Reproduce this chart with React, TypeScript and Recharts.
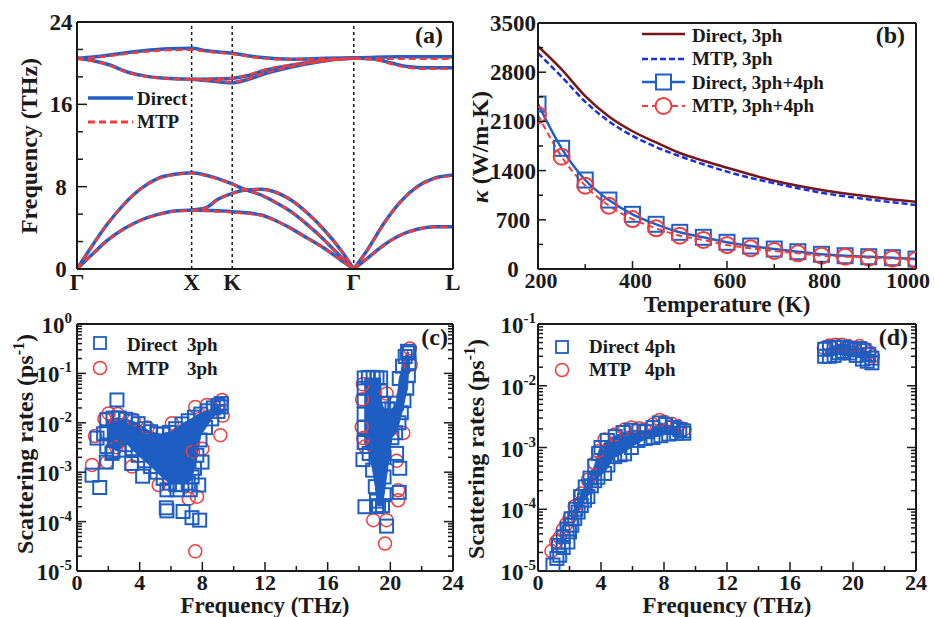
import React from 'react';
import { LineChart, Line, ComposedChart, Area, Scatter, XAxis, YAxis, ReferenceLine } from 'recharts';

type Pair = [number, number];
type Band = [number, number, number];

const FONT = '"Liberation Serif", "Times New Roman", serif';
const INK = '#1a1a1a';
const BLUE = '#1f5fc6';
const SQ = '#1e5ec2';
const RED = '#f23c3c';
const MAROON = '#74161a';
const DBLUE = '#1b30e0';
const FRAME = { stroke: INK, strokeWidth: 2 };

// ---------- (a) phonon dispersion, k in units of 2pi/a along G-X-K-G-L
const symK = [0, 1, 1.354, 2.414, 3.28];
const symLabels = ['Γ', 'X', 'K', 'Γ', 'L'];
const freqTicksA = [0, 8 / 3, 16 / 3, 8, 32 / 3, 40 / 3, 16, 56 / 3, 64 / 3, 24];

// Direct (DFT) bands, G-X-K-G segment
const dLA1: Pair[] = [[0, 0], [0.127, 2.17], [0.27, 4.44], [0.417, 6.38], [0.56, 7.84], [0.707, 8.81], [0.85, 9.2], [1, 9.36], [1.171, 8.97], [1.354, 8.26], [1.475, 7.68], [1.606, 7.19], [1.722, 6.54], [1.867, 5.57], [2.012, 4.28], [2.157, 2.82], [2.301, 1.2], [2.414, 0]];
const dTA2: Pair[] = [[0, 0], [0.127, 1.36], [0.27, 2.82], [0.417, 3.95], [0.56, 4.76], [0.707, 5.31], [0.85, 5.64], [1, 5.73], [1.113, 5.9], [1.229, 6.77], [1.354, 7.35], [1.475, 7.68], [1.606, 7.74], [1.722, 7.51], [1.867, 6.7], [2.012, 5.41], [2.157, 3.79], [2.301, 1.85], [2.414, 0]];
const dTA1: Pair[] = [[1, 5.73], [1.171, 5.68], [1.354, 5.57], [1.606, 5.25], [1.722, 4.76], [1.867, 3.95], [2.012, 2.98], [2.157, 2.01], [2.301, 0.87], [2.414, 0]];
const dLO1: Pair[] = [[0, 20.47], [0.142, 20.6], [0.287, 20.8], [0.577, 21.2], [0.81, 21.4], [1, 21.45], [1.128, 21.2], [1.354, 20.96], [1.591, 20.57], [1.88, 20.38], [2.17, 20.47], [2.414, 20.5]];
const dTO1: Pair[] = [[0, 20.47], [0.142, 20.24], [0.287, 19.82], [0.432, 19.17], [0.577, 18.79], [0.81, 18.5], [1, 18.43], [1.17, 18.46], [1.354, 18.53], [1.475, 18.75], [1.649, 19.34], [1.88, 19.82], [2.113, 20.24], [2.414, 20.47]];
const dTO2: Pair[] = [[1, 18.43], [1.17, 18.27], [1.354, 18.1], [1.475, 18.37], [1.649, 19.01], [1.88, 19.66], [2.113, 20.14], [2.287, 20.41], [2.414, 20.47]];
// G-L segment
const dLA2: Pair[] = [[2.414, 0], [2.533, 1.85], [2.678, 4.44], [2.823, 6.54], [2.968, 8.0], [3.113, 8.81], [3.28, 9.13]];
const dTAL: Pair[] = [[2.414, 0], [2.533, 1.04], [2.678, 2.33], [2.823, 3.3], [2.968, 3.86], [3.113, 4.11], [3.28, 4.11]];
const dOuL: Pair[] = [[2.414, 20.5], [2.6, 20.58], [2.8, 20.62], [3.28, 20.63]];
const dOlL: Pair[] = [[2.414, 20.5], [2.606, 20.38], [2.75, 19.99], [2.896, 19.66], [3.04, 19.56], [3.28, 19.56]];

// MTP bands
const mLA1: Pair[] = [[0, 0], [0.127, 2.15], [0.27, 4.42], [0.417, 6.36], [0.56, 7.8], [0.707, 8.76], [0.85, 9.15], [1, 9.3], [1.171, 8.93], [1.354, 8.24], [1.475, 7.68], [1.606, 7.2], [1.722, 6.55], [1.867, 5.58], [2.012, 4.28], [2.157, 2.82], [2.301, 1.2], [2.414, 0]];
const mTA2: Pair[] = [[0, 0], [0.127, 1.35], [0.27, 2.8], [0.417, 3.92], [0.56, 4.72], [0.707, 5.27], [0.85, 5.6], [1, 5.7], [1.113, 5.88], [1.229, 6.74], [1.354, 7.33], [1.475, 7.68], [1.606, 7.74], [1.722, 7.5], [1.867, 6.7], [2.012, 5.41], [2.157, 3.79], [2.301, 1.85], [2.414, 0]];
const mTA1: Pair[] = [[1, 5.7], [1.171, 5.62], [1.354, 5.5], [1.606, 5.2], [1.722, 4.73], [1.867, 3.93], [2.012, 2.97], [2.157, 2.0], [2.301, 0.87], [2.414, 0]];
const mLO1: Pair[] = [[0, 20.42], [0.142, 20.52], [0.287, 20.72], [0.577, 21.1], [0.81, 21.28], [1, 21.3], [1.128, 21.12], [1.354, 20.9], [1.591, 20.52], [1.88, 20.35], [2.17, 20.42], [2.414, 20.45]];
const mTO1: Pair[] = [[0, 20.42], [0.142, 20.2], [0.287, 19.78], [0.432, 19.14], [0.577, 18.76], [0.81, 18.48], [1, 18.42], [1.17, 18.46], [1.354, 18.56], [1.475, 18.8], [1.649, 19.4], [1.88, 19.86], [2.113, 20.22], [2.414, 20.45]];
const mTO2: Pair[] = [[1, 18.42], [1.17, 18.3], [1.354, 18.18], [1.475, 18.43], [1.649, 19.06], [1.88, 19.7], [2.113, 20.14], [2.287, 20.38], [2.414, 20.45]];
const mLA2: Pair[] = [[2.414, 0], [2.533, 1.83], [2.678, 4.4], [2.823, 6.5], [2.968, 7.95], [3.113, 8.74], [3.28, 9.05]];
const mTAL: Pair[] = [[2.414, 0], [2.533, 1.03], [2.678, 2.31], [2.823, 3.27], [2.968, 3.83], [3.113, 4.07], [3.28, 4.08]];
const mOuL: Pair[] = [[2.414, 20.45], [2.6, 20.45], [2.8, 20.43], [3.28, 20.42]];
const mOlL: Pair[] = [[2.414, 20.45], [2.606, 20.3], [2.75, 19.9], [2.896, 19.55], [3.04, 19.45], [3.28, 19.45]];

const directBands = [dLA1, dTA2, dTA1, dLO1, dTO1, dTO2, dLA2, dTAL, dOuL, dOlL];
const mtpBands = [mLA1, mTA2, mTA1, mLO1, mTO1, mTO2, mLA2, mTAL, mOuL, mOlL];

// ---------- (b) thermal conductivity
const tempK = [200, 250, 300, 350, 400, 450, 500, 550, 600, 650, 700, 750, 800, 850, 900, 950, 1000];
const kDirect3 = [3170, 2840, 2460, 2170, 1960, 1800, 1650, 1540, 1440, 1345, 1255, 1185, 1125, 1075, 1030, 990, 955];
const kMtp3 = [3070, 2735, 2380, 2100, 1895, 1735, 1605, 1490, 1385, 1295, 1220, 1150, 1085, 1035, 990, 950, 910];
const kDirect34 = [2347, 1717, 1266, 981, 778, 636, 522, 451, 380, 327, 284, 246, 209, 189, 175, 161, 142];
const kMtp34 = [2190, 1598, 1185, 900, 711, 579, 474, 413, 341, 294, 256, 223, 189, 175, 161, 147, 128];
const tempTicks = [200, 300, 400, 500, 600, 700, 800, 900, 1000];
const kappaTicks = [0, 350, 700, 1050, 1400, 1750, 2100, 2450, 2800, 3150, 3500];

// ---------- (c) 3ph scattering rates (ps^-1)
const cBandLow: Band[] = [
  [1.9, 3.4e-3, 1.15e-2], [2.55, 2.7e-3, 1.26e-2], [3.19, 3.7e-3, 1.17e-2], [3.83, 2.3e-3, 1.0e-2],
  [4.68, 1.35e-3, 6.6e-3], [5.32, 8.5e-4, 5.9e-3], [5.96, 5.8e-4, 6.6e-3], [6.81, 5.8e-4, 1.0e-2],
  [7.28, 6.8e-4, 1.2e-2], [7.6, 1.6e-3, 1.4e-2], [7.9, 5.6e-3, 1.6e-2], [8.6, 1.2e-2, 1.9e-2], [9.15, 2.0e-2, 2.4e-2],
];
const cBandHigh: Band[] = [
  [18.33, 4.0e-3, 8.1e-2], [18.65, 2.4e-3, 8.1e-2], [18.87, 1.1e-3, 8.1e-2], [19.04, 5.1e-4, 8.1e-2],
  [19.18, 2.1e-4, 8.1e-2], [19.38, 2.1e-4, 8.1e-2], [19.45, 2.1e-4, 2.5e-2], [19.6, 3.5e-4, 1.9e-2],
  [20.1, 5.0e-3, 1.9e-2], [20.4, 6.3e-3, 2.5e-2], [20.57, 1.0e-2, 7.9e-2], [20.78, 1.8e-2, 1.4e-1],
  [20.95, 3.2e-2, 2.2e-1], [21.1, 5.0e-2, 2.8e-1], [21.19, 1.6e-1, 2.6e-1],
];
const cDirect: Pair[] = [
  [1.9, 1.15e-2], [2.3, 1.25e-2], [2.7, 1.25e-2], [3.1, 1.18e-2], [3.5, 1.08e-2], [3.9, 9.6e-3], [4.3, 7.6e-3], [4.7, 6.6e-3], [5.1, 6.0e-3], [5.5, 5.9e-3],
  [5.9, 6.4e-3], [6.3, 7.6e-3], [6.7, 9.5e-3], [7.1, 1.1e-2], [7.5, 1.3e-2], [7.9, 1.5e-2], [8.3, 1.75e-2], [8.7, 2.0e-2], [9.0, 2.25e-2], [9.2, 2.45e-2],
  [1.9, 3.3e-3], [2.3, 2.6e-3], [2.7, 2.8e-3], [3.1, 3.6e-3], [3.5, 3.0e-3], [3.9, 2.2e-3], [4.3, 1.7e-3], [4.7, 1.3e-3], [5.1, 1.0e-3], [5.5, 7.5e-4],
  [5.9, 6.0e-4], [6.3, 5.6e-4], [6.7, 5.6e-4], [7.1, 6.0e-4], [7.35, 8.0e-4], [7.5, 1.2e-3], [7.65, 2.2e-3], [7.85, 4.5e-3], [8.2, 8.0e-3], [8.6, 1.2e-2],
  [9.0, 1.7e-2], [9.2, 2.1e-2], [1.9, 6.5e-3],
  [0.96, 8.7e-4], [1.45, 4.9e-4], [1.28, 4.9e-3], [1.87, 1.6e-3], [2.23, 2.4e-3], [2.55, 2.9e-2], [3.49, 1.5e-3], [4.19, 8.3e-4], [5.74, 4.4e-4],
  [6.38, 4.4e-4], [7.23, 4.4e-4], [7.77, 5.5e-4], [5.7, 1.9e-4], [5.74, 1.65e-4], [6.77, 1.6e-4], [7.34, 1.2e-4], [7.83, 1.07e-4], [7.98, 1.6e-3], [1.7, 6.0e-3],
  [18.33, 8.1e-2], [18.33, 5.0e-2], [18.33, 2.8e-2], [18.33, 1.5e-2], [18.33, 8.0e-3], [18.33, 4.0e-3], [18.65, 2.4e-3], [18.87, 1.1e-3], [19.04, 5.1e-4], [19.12, 2.6e-4],
  [18.6, 8.3e-2], [18.9, 8.3e-2], [19.15, 8.1e-2], [19.38, 8.1e-2], [19.38, 4.5e-2], [19.45, 2.5e-2], [19.25, 2.1e-4], [19.5, 2.1e-4],
  [19.6, 3.5e-4], [19.6, 8.0e-4], [19.6, 2.0e-3], [19.6, 5.0e-3], [19.6, 1.2e-2], [19.85, 1.9e-2], [20.1, 1.9e-2],
  [20.4, 2.5e-2], [20.57, 7.9e-2], [20.78, 1.4e-1], [20.95, 2.2e-1], [21.1, 2.8e-1],
  [21.19, 2.6e-1], [21.19, 1.6e-1], [21.15, 9.0e-2], [21.05, 5.0e-2], [20.87, 2.8e-2], [20.7, 1.6e-2], [20.55, 1.0e-2], [20.34, 6.3e-3], [20.1, 5.0e-3],
  [18.38, 2.0e-4], [19.12, 2.0e-4], [19.76, 8.1e-5], [20.4, 2.4e-3], [20.6, 1.2e-3], [20.57, 3.9e-4], [18.25, 1.8e-3],
];
const cMtp: Pair[] = [
  [0.96, 1.4e-3], [1.15, 5.4e-3], [1.91, 1.6e-3], [2.02, 1.55e-2], [3.62, 1.15e-2], [3.51, 1.3e-3], [5.21, 5.5e-4], [6.06, 9.8e-3], [7.13, 2.9e-4],
  [7.66, 3.2e-4], [7.55, 2.5e-5], [7.55, 2.1e-2], [8.3, 2.3e-2], [9.15, 5.6e-3], [9.26, 2.9e-2], [9.3, 1.4e-2], [2.6, 1.5e-2], [4.5, 8.0e-3],
  [1.75, 1.2e-2], [2.5, 3.2e-3], [7.4, 2.6e-3], [8.0, 3.0e-3],
  [18.27, 4.9e-3], [18.38, 3.3e-3], [18.17, 8.3e-3], [18.2, 3.0e-2], [19.76, 3.9e-2], [20.83, 6.2e-3], [20.4, 1.7e-3], [20.5, 4.3e-4],
  [20.5, 2.7e-4], [18.91, 1.07e-4], [19.76, 1.07e-4], [19.66, 3.6e-5], [21.25, 3.2e-1], [21.3, 1.5e-1], [18.25, 6.0e-2],
];

// ---------- (d) 4ph scattering rates (ps^-1)
const dBandLow: Band[] = [
  [2.2, 5.6e-5, 9.0e-5], [2.7, 1.1e-4, 1.7e-4], [3.2, 1.7e-4, 3.0e-4], [3.6, 2.9e-4, 5.2e-4], [3.9, 3.4e-4, 9.5e-4],
  [4.3, 4.2e-4, 1.25e-3], [4.8, 6.8e-4, 1.5e-3], [5.3, 7.8e-4, 1.7e-3], [6.0, 1.05e-3, 1.9e-3], [7.0, 1.45e-3, 1.85e-3],
  [7.5, 1.5e-3, 2.3e-3], [7.8, 1.55e-3, 2.5e-3], [8.2, 1.65e-3, 2.35e-3], [8.8, 1.7e-3, 2.05e-3], [9.25, 1.7e-3, 1.85e-3],
];
const dBandHigh: Band[] = [
  [18.2, 3.0e-2, 3.9e-2], [18.8, 3.1e-2, 4.2e-2], [19.4, 3.6e-2, 4.2e-2], [20.1, 3.2e-2, 3.8e-2],
  [20.4, 2.9e-2, 4.0e-2], [20.9, 2.5e-2, 3.5e-2], [21.2, 2.35e-2, 2.8e-2],
];
const dDirect: Pair[] = [
  [0.95, 1.25e-5], [1.2, 1.6e-5], [1.38, 1.8e-5], [1.6, 2.4e-5], [1.9, 2.95e-5], [2.0, 4.3e-5], [2.15, 5.5e-5], [2.33, 7.1e-5], [2.55, 9.0e-5], [2.75, 1.15e-4],
  [2.95, 1.4e-4], [3.17, 1.6e-4], [3.39, 2.4e-4], [3.6, 2.9e-4], [3.81, 3.3e-4], [4.23, 3.8e-4], [4.44, 5.2e-4], [4.87, 7.1e-4], [5.2, 7.6e-4], [5.5, 7.9e-4],
  [5.93, 1.0e-3], [6.35, 1.3e-3], [6.8, 1.4e-3], [7.3, 1.45e-3], [7.8, 1.55e-3], [8.3, 1.65e-3], [8.8, 1.7e-3], [9.25, 1.7e-3],
  [1.3, 2.6e-5], [1.6, 3.6e-5], [1.85, 4.8e-5], [2.1, 7.0e-5], [2.4, 1.0e-4], [2.7, 1.6e-4], [3.0, 2.3e-4], [3.3, 3.2e-4], [3.6, 5.0e-4], [3.85, 8.0e-4],
  [4.0, 1.0e-3], [4.4, 1.3e-3], [4.9, 1.5e-3], [5.4, 1.75e-3], [5.9, 1.9e-3], [6.4, 1.85e-3], [6.9, 1.8e-3], [7.3, 2.1e-3], [7.7, 2.5e-3], [8.1, 2.35e-3],
  [8.6, 2.1e-3], [9.0, 1.95e-3], [9.25, 1.85e-3],
  [18.2, 3.9e-2], [18.5, 4.1e-2], [18.8, 4.2e-2], [19.1, 4.2e-2], [19.4, 4.2e-2], [19.8, 4.0e-2], [20.1, 3.8e-2], [20.4, 4.0e-2], [20.7, 3.7e-2], [21.0, 3.2e-2], [21.2, 2.8e-2],
  [18.2, 3.0e-2], [18.5, 3.0e-2], [18.8, 3.1e-2], [19.1, 3.4e-2], [19.4, 3.6e-2], [19.8, 3.4e-2], [20.2, 3.1e-2], [20.6, 2.7e-2], [20.9, 2.5e-2], [21.2, 2.35e-2],
];
const dMtp: Pair[] = [
  [0.85, 2.1e-5], [1.16, 3.0e-5], [1.38, 3.5e-5], [1.59, 4.7e-5], [1.8, 5.8e-5], [2.0, 7.2e-5], [2.33, 1.12e-4], [2.75, 1.8e-4], [3.17, 3.0e-4], [3.6, 5.6e-4],
  [3.81, 8.7e-4], [4.23, 1.35e-3], [4.87, 1.62e-3], [5.5, 1.95e-3], [5.93, 2.1e-3], [6.4, 2.05e-3], [6.77, 1.95e-3], [7.3, 2.35e-3], [7.72, 2.8e-3],
  [8.04, 2.6e-3], [8.5, 2.4e-3], [8.89, 2.2e-3], [9.3, 2.0e-3],
  [18.15, 4.1e-2], [18.5, 4.5e-2], [18.9, 4.6e-2], [19.3, 4.6e-2], [19.7, 4.4e-2], [20.05, 4.1e-2], [20.4, 4.4e-2], [20.75, 4.0e-2], [21.05, 3.5e-2], [21.25, 3.0e-2],
];

const freqTicksCD = [0, 2, 4, 6, 8, 10, 12, 14, 16, 18, 20, 22, 24];
const decadesC = [1e-5, 1e-4, 1e-3, 1e-2, 1e-1, 1];
const decadesD = [1e-5, 1e-4, 1e-3, 1e-2, 1e-1];

function logTicks(decades: number[]) {
  const out: number[] = [];
  decades.forEach((d, i) => {
    if (i === decades.length - 1) { out.push(d); return; }
    for (let m = 1; m <= 9; m++) out.push(d * m);
  });
  return out;
}
const isDecade = (v: number) => Math.abs(Math.log10(v) - Math.round(Math.log10(v))) < 1e-6;
const powLabel = (v: number) => [
  <tspan key="b">10</tspan>,
  <tspan key="e" dy={-10} fontSize={15}>{String(Math.round(Math.log10(v)))}</tspan>,
];

type Side = 'left' | 'right' | 'top' | 'bottom';
type TickOpts = {
  side: Side;
  isMajor: (v: number) => boolean;
  label?: (v: number) => React.ReactNode;
  major?: number;
  minor?: number;
  anchor?: 'start' | 'middle' | 'end';
  dx?: number | ((v: number) => number);
  dy?: number;
  size?: number;
};

// axes are 1px thick, so the tick (x, y) handed to us sits on the plot frame
function makeTick(o: TickOpts) {
  const dir: Record<Side, number[]> = { left: [1, 0], right: [-1, 0], top: [0, 1], bottom: [0, -1] };
  return (props: any) => {
    const { x, y, payload } = props;
    const v = Number(payload.value);
    const maj = o.isMajor(v);
    const len = maj ? (o.major ?? 9) : (o.minor ?? 5);
    const d = dir[o.side];
    const dx = typeof o.dx === 'function' ? o.dx(v) : (o.dx ?? 0);
    return (
      <g>
        {len > 0 && <line x1={x} y1={y} x2={x + d[0] * len} y2={y + d[1] * len} stroke={INK} strokeWidth={1.5} />}
        {maj && o.label && (
          <text x={x + dx} y={y + (o.dy ?? 0)} textAnchor={o.anchor ?? 'middle'} fontFamily={FONT} fontWeight="bold" fontSize={o.size ?? 23} fill={INK}>
            {o.label(v)}
          </text>
        )}
      </g>
    );
  };
}

const toBand = (b: Pair[]) => b.map(([k, f]) => ({ k, f }));
const toRate = (a: Pair[]) => a.map(([f, r]) => ({ f, r }));
const toRange = (a: Band[]) => a.map(([f, lo, hi]) => ({ f, range: [lo, hi] }));

const squareShape = (size: number, color: string, sw: number) => (props: any) => {
  const { cx, cy, index } = props;
  if (cx == null || cy == null) return <g key={index} />;
  return <rect key={index} x={cx - size / 2} y={cy - size / 2} width={size} height={size} fill="none" stroke={color} strokeWidth={sw} />;
};
const circleShape = (r: number, color: string, sw: number) => (props: any) => {
  const { cx, cy, index } = props;
  if (cx == null || cy == null) return <g key={index} />;
  return <circle key={index} cx={cx} cy={cy} r={r} fill="none" stroke={color} strokeWidth={sw} />;
};

function PanelA() {
  return (
    <LineChart width={470} height={310} margin={{ top: 21, right: 16, bottom: 40, left: 76 }}>
      <XAxis dataKey="k" type="number" domain={[0, 3.28]} ticks={symK} interval={0} tickSize={0} tickMargin={0} height={1}
        tickLine={false} axisLine={FRAME} allowDataOverflow
        tick={makeTick({ side: 'bottom', isMajor: () => true, major: 0, label: (v) => symLabels[symK.indexOf(v)], dy: 21 })} />
      <XAxis xAxisId="top" orientation="top" type="number" domain={[0, 3.28]} height={1} tick={false} tickLine={false} axisLine={FRAME} />
      <YAxis type="number" domain={[0, 24]} ticks={freqTicksA} interval={0} tickSize={0} tickMargin={0} width={1}
        tickLine={false} axisLine={FRAME} allowDataOverflow
        tick={makeTick({ side: 'left', isMajor: (v) => Math.abs(v / 8 - Math.round(v / 8)) < 1e-6, major: 10, minor: 6, label: (v) => String(Math.round(v)), dx: -16, dy: 8 })} />
      <YAxis yAxisId="right" orientation="right" type="number" domain={[0, 24]} width={1} tick={false} tickLine={false} axisLine={FRAME} />
      {[1, 1.354, 2.414].map((k) => (
        <ReferenceLine key={k} x={k} stroke={INK} strokeWidth={1.5} strokeDasharray="3 3" />
      ))}
      {directBands.map((b, i) => (
        <Line key={'d' + i} data={toBand(b)} dataKey="f" type="monotone" dot={false} stroke={BLUE} strokeWidth={3.5} isAnimationActive={false} />
      ))}
      {mtpBands.map((b, i) => (
        <Line key={'m' + i} data={toBand(b)} dataKey="f" type="monotone" dot={false} stroke={RED} strokeWidth={2.5} strokeDasharray="7 4" isAnimationActive={false} />
      ))}
    </LineChart>
  );
}

function PanelB() {
  const rows = tempK.map((T, i) => ({ T, d3: kDirect3[i], m3: kMtp3[i], d34: kDirect34[i], m34: kMtp34[i] }));
  return (
    <LineChart width={470} height={310} data={rows} margin={{ top: 22, right: 18, bottom: 40, left: 72 }}>
      <XAxis dataKey="T" type="number" domain={[200, 1000]} ticks={tempTicks} interval={0} tickSize={0} tickMargin={0} height={1}
        tickLine={false} axisLine={FRAME} allowDataOverflow
        tick={makeTick({ side: 'bottom', isMajor: (v) => v % 200 === 0, major: 8, minor: 5, label: (v) => String(v), dx: (v) => (v === 1000 ? -8 : 3), dy: 19, size: 22 })} />
      <XAxis xAxisId="top" orientation="top" type="number" domain={[200, 1000]} height={1} tick={false} tickLine={false} axisLine={FRAME} />
      <YAxis type="number" domain={[0, 3500]} ticks={kappaTicks} interval={0} tickSize={0} tickMargin={0} width={1}
        tickLine={false} axisLine={FRAME} allowDataOverflow
        tick={makeTick({ side: 'left', isMajor: (v) => v % 700 === 0, major: 8, minor: 5, label: (v) => String(v), dx: -25, dy: 8 })} />
      <YAxis yAxisId="right" orientation="right" type="number" domain={[0, 3500]} width={1} tick={false} tickLine={false} axisLine={FRAME} />
      <Line dataKey="d3" type="monotone" stroke={MAROON} strokeWidth={2.5} dot={false} isAnimationActive={false} />
      <Line dataKey="m3" type="monotone" stroke={DBLUE} strokeWidth={2.5} strokeDasharray="6 3" dot={false} isAnimationActive={false} />
      <Line dataKey="d34" type="monotone" stroke={BLUE} strokeWidth={2.5} dot={squareShape(15, BLUE, 2)} isAnimationActive={false} />
      <Line dataKey="m34" type="monotone" stroke={RED} strokeWidth={2} strokeDasharray="6 4" dot={circleShape(8, RED, 2)} isAnimationActive={false} />
    </LineChart>
  );
}

function RatePanel(p: { bands: Band[][]; direct: Pair[]; mtp: Pair[]; decades: number[]; left: number; right: number; labelDx: number }) {
  const yTicks = logTicks(p.decades);
  const yDom = [p.decades[0], p.decades[p.decades.length - 1]];
  return (
    <ComposedChart width={470} height={307} margin={{ top: 13, right: p.right - 1, bottom: 45, left: p.left - 1 }}>
      <XAxis dataKey="f" type="number" domain={[0, 24]} ticks={freqTicksCD} interval={0} tickSize={0} tickMargin={0} height={1}
        tickLine={false} axisLine={FRAME} allowDataOverflow
        tick={makeTick({ side: 'bottom', isMajor: (v) => v % 4 === 0, major: 9, minor: 5, label: (v) => String(v), dy: 19, size: 22 })} />
      <XAxis xAxisId="top" orientation="top" type="number" domain={[0, 24]} ticks={freqTicksCD} interval={0} tickSize={0} tickMargin={0} height={1}
        tickLine={false} axisLine={FRAME} allowDataOverflow
        tick={makeTick({ side: 'top', isMajor: (v) => v % 4 === 0, major: 9, minor: 5 })} />
      <YAxis type="number" scale="log" domain={yDom} ticks={yTicks} interval={0} tickSize={0} tickMargin={0} width={1}
        tickLine={false} axisLine={FRAME} allowDataOverflow
        tick={makeTick({ side: 'left', isMajor: isDecade, major: 9, minor: 5, label: powLabel, anchor: 'end', dx: p.labelDx, dy: 9 })} />
      <YAxis yAxisId="right" orientation="right" type="number" scale="log" domain={yDom} ticks={yTicks} interval={0} tickSize={0} tickMargin={0} width={1}
        tickLine={false} axisLine={FRAME} allowDataOverflow
        tick={makeTick({ side: 'right', isMajor: isDecade, major: 9, minor: 5 })} />
      <Scatter data={toRate(p.mtp)} dataKey="r" shape={circleShape(6.5, RED, 1.5)} isAnimationActive={false} />
      {p.bands.map((b, i) => (
        <Area key={i} data={toRange(b)} dataKey="range" type="linear" stroke={SQ} strokeWidth={1} fill={SQ} fillOpacity={1}
          dot={false} activeDot={false} isAnimationActive={false} />
      ))}
      <Scatter data={toRate(p.direct)} dataKey="r" shape={squareShape(13, SQ, 2)} isAnimationActive={false} />
    </ComposedChart>
  );
}

function Overlay() {
  const t = { fontFamily: FONT, fontWeight: 'bold' as const, fill: INK };
  return (
    <svg width={935} height={617} style={{ position: 'absolute', left: 0, top: 0, pointerEvents: 'none' }}>
      {/* axis titles */}
      <text {...t} fontSize={24} textAnchor="middle" transform="translate(37,146) rotate(-90)">Frequency (THz)</text>
      <text {...t} fontSize={24} textAnchor="middle" transform="translate(488,147) rotate(-90)">
        <tspan fontStyle="italic">κ</tspan> (W/m-K)
      </text>
      <text {...t} fontSize={23} textAnchor="middle" x={727} y={312}>Temperature (K)</text>
      <text {...t} fontSize={24} textAnchor="middle" transform="translate(33,444) rotate(-90)">
        Scattering rates (ps<tspan dy={-9} fontSize={16}>-1</tspan><tspan dy={9}>)</tspan>
      </text>
      <text {...t} fontSize={24} textAnchor="middle" transform="translate(484,449) rotate(-90)">
        Scattering rates (ps<tspan dy={-9} fontSize={16}>-1</tspan><tspan dy={9}>)</tspan>
      </text>
      <text {...t} fontSize={23} textAnchor="middle" x={265} y={613}>Frequency (THz)</text>
      <text {...t} fontSize={23} textAnchor="middle" x={727} y={613}>Frequency (THz)</text>

      {/* panel tags */}
      <text {...t} fontSize={24} textAnchor="end" x={443} y={43}>(a)</text>
      <text {...t} fontSize={24} textAnchor="end" x={905} y={43}>(b)</text>
      <text {...t} fontSize={24} textAnchor="end" x={448} y={345}>(c)</text>
      <text {...t} fontSize={24} textAnchor="end" x={908} y={345}>(d)</text>

      {/* legend (a) */}
      <line x1={88} x2={133} y1={98} y2={98} stroke={BLUE} strokeWidth={3.5} />
      <text {...t} fontSize={19} x={137} y={105}>Direct</text>
      <line x1={88} x2={133} y1={122} y2={122} stroke={RED} strokeWidth={3} strokeDasharray="7 4" />
      <text {...t} fontSize={19} x={137} y={128}>MTP</text>

      {/* legend (b) */}
      <line x1={642} x2={685} y1={34} y2={34} stroke={MAROON} strokeWidth={2.5} />
      <text {...t} fontSize={19} x={692} y={41.5}>Direct, 3ph</text>
      <line x1={642} x2={685} y1={59} y2={59} stroke={DBLUE} strokeWidth={2.5} strokeDasharray="6 3" />
      <text {...t} fontSize={19} x={692} y={65}>MTP, 3ph</text>
      <line x1={642} x2={685} y1={82} y2={82} stroke={BLUE} strokeWidth={2.5} />
      <rect x={656} y={74.5} width={15} height={15} fill="#fff" stroke={BLUE} strokeWidth={2} />
      <text {...t} fontSize={19} x={692} y={88.5}>Direct, 3ph+4ph</text>
      <line x1={642} x2={685} y1={106} y2={106} stroke={RED} strokeWidth={2} strokeDasharray="6 4" />
      <circle cx={663.5} cy={106} r={8} fill="#fff" stroke={RED} strokeWidth={2} />
      <text {...t} fontSize={19} x={692} y={112}>MTP, 3ph+4ph</text>

      {/* legend (c) */}
      <rect x={94} y={337} width={12} height={12} fill="none" stroke={SQ} strokeWidth={1.8} />
      <text {...t} fontSize={19} x={127} y={350.5}>Direct</text>
      <text {...t} fontSize={19} x={187} y={350.5}>3ph</text>
      <circle cx={100} cy={368} r={6.5} fill="none" stroke={RED} strokeWidth={1.5} />
      <text {...t} fontSize={19} x={127} y={375}>MTP</text>
      <text {...t} fontSize={19} x={187} y={375}>3ph</text>

      {/* legend (d) */}
      <rect x={556} y={341} width={12} height={12} fill="none" stroke={SQ} strokeWidth={1.8} />
      <text {...t} fontSize={19} x={589} y={352.5}>Direct</text>
      <text {...t} fontSize={19} x={645} y={352.5}>4ph</text>
      <circle cx={562} cy={370} r={6.5} fill="none" stroke={RED} strokeWidth={1.5} />
      <text {...t} fontSize={19} x={589} y={376}>MTP</text>
      <text {...t} fontSize={19} x={645} y={376}>4ph</text>
    </svg>
  );
}

export default function App() {
  return (
    <div style={{ position: 'absolute', left: 0, top: 0, width: 935, height: 617, background: '#fff', overflow: 'hidden', fontFamily: FONT }}>
      <div style={{ position: 'absolute', left: 0, top: 0 }}><PanelA /></div>
      <div style={{ position: 'absolute', left: 465, top: 0 }}><PanelB /></div>
      <div style={{ position: 'absolute', left: 0, top: 310 }}>
        <RatePanel bands={[cBandLow, cBandHigh]} direct={cDirect} mtp={cMtp} decades={decadesC} left={77} right={17} labelDx={-5} />
      </div>
      <div style={{ position: 'absolute', left: 465, top: 310 }}>
        <RatePanel bands={[dBandLow, dBandHigh]} direct={dDirect} mtp={dMtp} decades={decadesD} left={73} right={19} labelDx={-2} />
      </div>
      <Overlay />
    </div>
  );
}
